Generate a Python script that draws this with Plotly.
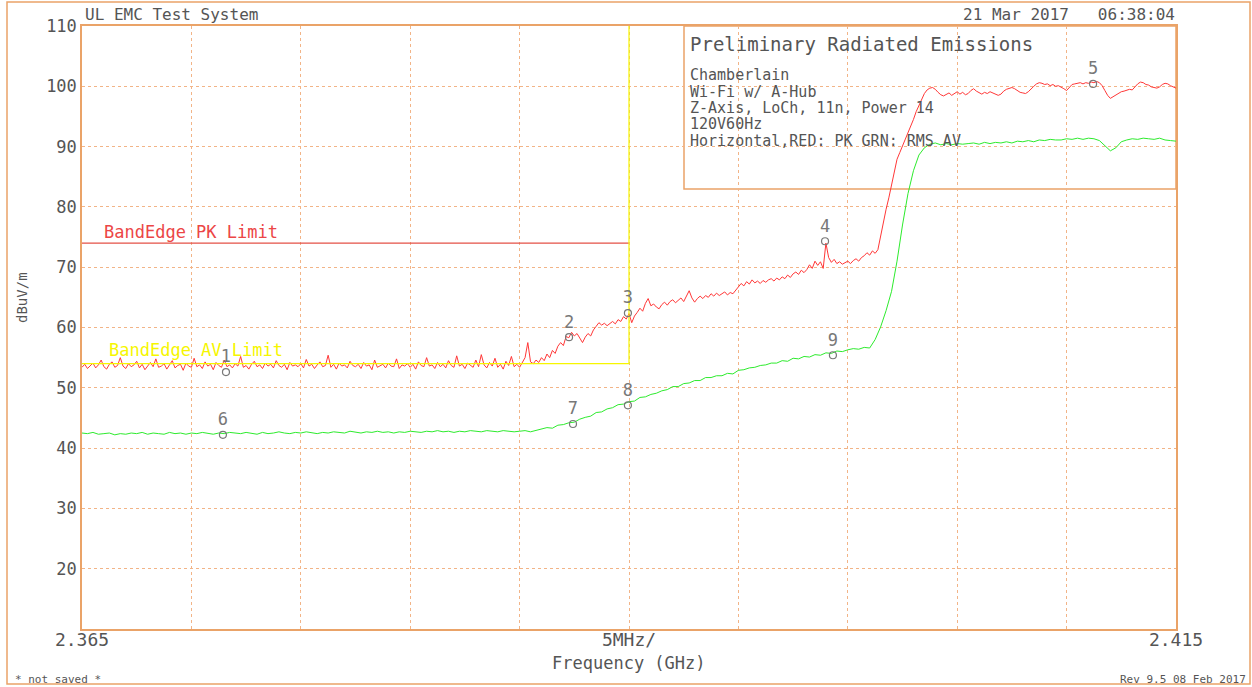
import numpy as np
import plotly.graph_objects as go

# ---- sweep settings -------------------------------------------------------
f_start, f_stop = 2.365, 2.415          # GHz
y_min, y_max = 10, 110                  # dBuV/m
x_tickvals = [2.365, 2.370, 2.375, 2.380, 2.385, 2.390, 2.395, 2.400, 2.405, 2.410, 2.415]
x_ticktext = ["2.365", "", "", "", "", "5MHz/", "", "", "", "", "2.415"]
y_tickvals = [20, 30, 40, 50, 60, 70, 80, 90, 100, 110]

# ---- peak detector trace (RED) -------------------------------------------
peak_dbuv = [
    53.4, 53.9, 53.2, 53.7, 54.1, 53.3, 53.8, 54.6, 53.5, 53.1, 53.9, 54.3, 53.4, 53.7, 55.0, 53.6, 53.2, 54.0, 53.5, 53.8,
    54.4, 53.3, 53.9, 53.0, 53.7, 54.2, 53.5, 54.8, 53.4, 53.6, 54.0, 53.1, 53.8, 54.5, 53.3, 53.7, 53.9, 52.9, 54.1, 53.6,
    53.4, 54.9, 53.5, 53.8, 53.2, 54.3, 53.6, 53.9, 53.0, 54.2, 53.7, 53.4, 54.6, 53.5, 53.8, 53.3, 54.0, 53.6, 55.2, 53.4,
    53.7, 53.1, 53.9, 54.4, 53.5, 53.8, 53.2, 54.1, 53.6, 53.9, 53.3, 54.5, 53.7, 53.4, 53.9, 53.0, 54.2, 53.6, 53.8, 53.5,
    54.0, 53.3, 54.7, 53.6, 53.9, 53.2, 53.8, 54.3, 53.5, 53.7, 55.4, 53.4, 53.9, 53.1, 54.1, 53.6, 53.8, 53.3, 54.4, 53.7,
    53.5, 53.9, 53.2, 54.2, 53.6, 53.8, 53.0, 54.6, 53.4, 53.7, 53.9, 53.3, 54.1, 53.6, 53.5, 54.8, 53.2, 53.8, 53.6, 54.0,
    53.4, 53.9, 53.1, 54.3, 53.7, 53.5, 55.0, 53.6, 53.8, 53.2, 54.2, 53.5, 53.9, 53.3, 54.5, 53.7, 53.4, 55.3, 53.6, 53.9,
    53.2, 54.1, 53.7, 53.4, 54.6, 53.5, 55.5, 53.8, 53.3, 54.2, 53.6, 54.9, 53.4, 53.9, 53.1, 54.4, 53.7, 55.2, 53.5, 53.9,
    53.4, 54.2, 55.0, 57.5, 54.3, 54.0, 54.6, 54.2, 55.0, 54.5, 55.6, 55.0, 56.2, 55.7, 56.9, 57.5, 57.0, 58.5, 58.3, 59.2,
    58.6, 59.0, 58.2, 57.5, 58.4, 59.0, 58.6, 59.6, 60.2, 60.8, 60.4, 60.7, 60.3, 60.6, 61.0, 60.6, 61.3, 61.0, 61.8, 61.4,
    62.3, 60.8, 61.9, 62.5, 63.2, 62.7, 64.0, 64.8, 63.6, 63.9, 63.4, 63.1, 63.8, 64.2, 63.7, 64.3, 64.6, 64.1, 64.5, 64.9,
    64.3, 65.1, 66.1, 64.9, 64.2, 64.8, 65.2, 64.8, 65.3, 65.0, 65.6, 65.2, 65.7, 65.3, 65.6, 65.9, 65.4, 65.8, 65.6, 66.2,
    66.8, 67.3, 66.9, 67.6, 67.2, 67.9, 67.4, 67.7, 67.3, 67.8, 67.5, 67.9, 68.1, 67.7, 68.2, 67.9, 68.4, 68.1, 68.7, 68.3,
    68.9, 69.2, 68.8, 69.5, 69.1, 69.6, 70.4, 69.8, 71.0, 70.3, 70.9, 69.8, 74.0, 71.6, 70.8, 71.3, 70.6, 70.9, 70.5, 70.8,
    71.0, 70.6, 71.1, 71.4, 71.0, 71.6, 71.9, 72.4, 72.0, 72.7, 72.3, 72.9, 75.2, 77.8, 79.6, 81.5, 83.5, 85.8, 87.9, 89.0,
    90.1, 91.0, 92.0, 93.3, 94.5, 95.8, 96.9, 97.9, 98.8, 99.4, 99.7, 99.8, 99.5, 99.0, 98.6, 98.4, 98.7, 98.9, 98.5, 98.8,
    99.1, 98.7, 99.0, 98.6, 98.8, 99.3, 99.6, 99.2, 98.9, 98.7, 99.0, 98.8, 99.1, 98.9, 98.7, 98.5, 98.7, 99.2, 99.5, 99.7,
    99.8, 99.6, 99.3, 99.0, 98.9, 98.8, 99.1, 99.6, 100.0, 100.4, 100.6, 100.5, 100.3, 100.4, 100.1, 100.3, 100.0, 100.1, 99.9, 99.6,
    99.3, 99.9, 100.3, 100.4, 100.5, 100.6, 100.4, 100.6, 100.5, 100.7, 100.6, 100.8, 100.6, 100.1, 99.3, 98.5, 98.0, 98.3, 98.6, 98.9,
    99.1, 99.2, 99.3, 99.5, 99.4, 99.9, 100.4, 100.7, 100.6, 100.3, 100.2, 99.9, 99.8, 99.7, 99.9, 100.3, 100.5, 100.4, 100.1, 99.9,
    99.7,
]

# ---- RMS average trace (GREEN) -------------------------------------------
rms_dbuv = [
    42.5, 42.4, 42.6, 42.3, 42.4, 42.5, 42.2, 42.4, 42.3, 42.5, 42.4, 42.6, 42.3, 42.5, 42.4, 42.3, 42.6, 42.4, 42.5, 42.3,
    42.5, 42.4, 42.6, 42.5, 42.3, 42.5, 42.4, 42.6, 42.5, 42.4, 42.6, 42.5, 42.3, 42.6, 42.4, 42.5, 42.7, 42.5, 42.4, 42.6,
    42.5, 42.7, 42.6, 42.4, 42.6, 42.5, 42.7, 42.6, 42.5, 42.8, 42.6, 42.5, 42.7, 42.6, 42.8, 42.6, 42.7, 42.5, 42.7, 42.6,
    42.8, 42.7, 42.6, 42.8, 42.7, 42.9, 42.7, 42.8, 42.6, 42.8, 42.7, 42.9, 42.8, 42.7, 42.9, 42.8, 42.7, 42.9, 42.8, 42.7,
    42.8, 42.9, 42.7, 42.9, 43.1, 43.4, 43.3, 43.8, 43.9, 44.2, 44.3, 44.8, 45.1, 45.3, 45.9, 46.0, 46.5, 46.7, 47.2, 47.3,
    47.7, 47.8, 48.4, 48.5, 48.9, 49.1, 49.5, 49.7, 50.2, 50.2, 50.7, 50.8, 51.2, 51.2, 51.7, 51.7, 52.0, 52.0, 52.4, 52.3,
    52.9, 53.0, 53.3, 53.4, 53.7, 53.8, 54.1, 54.1, 54.5, 54.4, 54.9, 54.8, 55.2, 55.1, 55.5, 55.4, 55.8, 55.7, 56.1, 56.0,
    56.3, 56.5, 56.4, 56.7, 56.6, 58.0, 60.1, 62.8, 66.0, 71.0, 77.0, 82.2, 86.0, 88.6, 89.8, 90.4, 90.6, 90.3, 90.5, 90.3,
    90.5, 90.4, 90.5, 90.6, 90.4, 90.7, 90.5, 90.7, 90.6, 90.8, 90.6, 90.9, 90.8, 91.0, 90.8, 91.1, 91.0, 91.2, 91.1, 91.1,
    91.3, 91.2, 91.4, 91.2, 91.4, 91.3, 91.0, 90.1, 89.3, 89.8, 90.8, 91.1, 91.3, 91.2, 91.4, 91.3, 91.2, 91.4, 91.1, 91.0,
    90.9,
]

# ---- limits ---------------------------------------------------------------
pk_limit = 74.0
av_limit = 54.0
limit_stop = 2.390

# ---- markers --------------------------------------------------------------
marker_ids = ["1", "2", "3", "4", "5", "6", "7", "8", "9"]
marker_freq = [2.37158, 2.38726, 2.38995, 2.39896, 2.41121, 2.37144, 2.38744, 2.38995, 2.39932]
marker_level = [52.6, 58.4, 62.4, 74.3, 100.4, 42.2, 44.0, 47.1, 55.4]

# ---- info block text ------------------------------------------------------
info_title = "Preliminary Radiated Emissions"
info_lines = [
    "Chamberlain",
    "Wi-Fi w/ A-Hub",
    "Z-Axis, LoCh, 11n, Power 14",
    "120V60Hz",
    "Horizontal,RED: PK GRN: RMS AV",
]

# ---- page geometry (pixels) ----------------------------------------------
W, H = 1252, 687
L, R, T, B = 82, 1176, 26, 629

def px(xp):
    return (xp - L) / (R - L)

def py(yp):
    return (B - yp) / (B - T)

FONT = "DejaVu Sans Mono"
TXT = "#555555"
ORANGE = "rgb(234,163,104)"
GRID = "rgb(242,180,135)"
RED = "rgb(255,55,55)"
GREEN = "rgb(45,235,45)"
YELLOW = "rgb(246,246,0)"

freq_pk = np.linspace(f_start, f_stop, len(peak_dbuv))
freq_rms = np.linspace(f_start, f_stop, len(rms_dbuv))

fig = go.Figure()

fig.add_trace(go.Scatter(x=freq_pk, y=peak_dbuv, mode="lines",
                         line=dict(color=RED, width=1), hoverinfo="skip"))
fig.add_trace(go.Scatter(x=freq_rms, y=rms_dbuv, mode="lines",
                         line=dict(color=GREEN, width=1), hoverinfo="skip"))

# limit lines
fig.add_trace(go.Scatter(x=[f_start, limit_stop], y=[pk_limit, pk_limit], mode="lines",
                         line=dict(color="rgb(228,80,70)", width=1.2), hoverinfo="skip"))
fig.add_trace(go.Scatter(x=[f_start, limit_stop, limit_stop], y=[av_limit, av_limit, y_max],
                         mode="lines", line=dict(color=YELLOW, width=1.2), hoverinfo="skip"))

# markers with numbers
fig.add_trace(go.Scatter(
    x=marker_freq, y=marker_level, mode="markers+text",
    marker=dict(symbol="circle-open", size=7, color="rgb(120,120,120)", line=dict(width=1.2)),
    text=marker_ids, textposition="top center",
    textfont=dict(family=FONT, size=17, color="rgb(120,120,120)"),
    hoverinfo="skip"))

shapes = [
    # outer page frame
    dict(type="rect", xref="paper", yref="paper",
         x0=px(7), x1=px(1250), y0=py(684), y1=py(2),
         line=dict(color=ORANGE, width=1.5), fillcolor="rgba(0,0,0,0)", layer="below"),
    # info block
    dict(type="rect", xref="paper", yref="paper",
         x0=px(684), x1=1.0, y0=py(189), y1=1.0,
         line=dict(color=ORANGE, width=1.5), fillcolor="white", layer="between"),
]

ann = []

def label(text, xp, yp, size, color=TXT, xanchor="left", angle=0):
    ann.append(dict(text=text, x=px(xp), y=py(yp), xref="paper", yref="paper",
                    xanchor=xanchor, yanchor="middle", showarrow=False, textangle=angle,
                    font=dict(family=FONT, size=size, color=color)))

label("UL EMC Test System", 83, 15, 16)
label("21 Mar 2017   06:38:04", 1177, 15, 16, xanchor="right")
label(info_title, 688, 44, 19)
for i, line in enumerate(info_lines):
    label(line, 688, 75 + i * 16.5, 15)
label("BandEdge PK Limit", 102, 232, 17, color="rgb(236,70,70)")
label("BandEdge AV Limit", 107, 350, 17, color=YELLOW)
label("dBuV/m", 22, 298, 14, angle=-90, xanchor="center")
label("Frequency (GHz)", 629, 663, 17, xanchor="center")
label("* not saved *", 13, 679, 11)
label("Rev 9.5 08 Feb 2017", 1248, 679, 11, xanchor="right")

fig.update_layout(
    width=W, height=H,
    margin=dict(l=L, r=W - R, t=T, b=H - B, pad=0),
    paper_bgcolor="white", plot_bgcolor="white",
    showlegend=False,
    shapes=shapes, annotations=ann,
    xaxis=dict(range=[f_start, f_stop], tickvals=x_tickvals, ticktext=x_ticktext,
               showgrid=True, gridcolor=GRID, griddash="dot", gridwidth=1,
               showline=True, linecolor=ORANGE, linewidth=1.5, mirror=True,
               zeroline=False, ticks="", automargin=False, ticklabelstandoff=-6,
               tickfont=dict(family=FONT, size=18, color=TXT)),
    yaxis=dict(range=[y_min, y_max], tickvals=y_tickvals,
               showgrid=True, gridcolor=GRID, griddash="dot", gridwidth=1,
               showline=True, linecolor=ORANGE, linewidth=1.5, mirror=True,
               zeroline=False, ticks="", automargin=False,
               tickfont=dict(family=FONT, size=17, color=TXT)),
)

fig.write_html("out.html")
